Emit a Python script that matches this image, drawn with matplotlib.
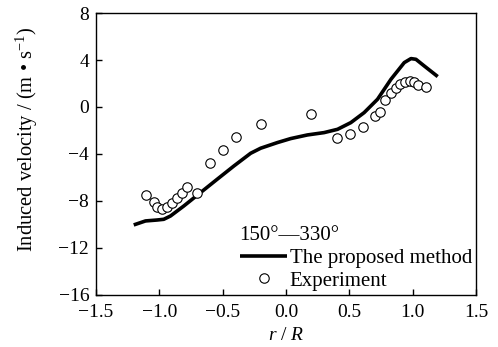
import matplotlib
matplotlib.use("Agg")
import matplotlib.pyplot as plt

plt.rcParams['font.family'] = ['Liberation Serif', 'DejaVu Serif']
plt.rcParams['mathtext.fontset'] = 'custom'
plt.rcParams['mathtext.rm'] = 'Liberation Serif'
plt.rcParams['mathtext.it'] = 'Liberation Serif:italic'

# Proposed method curve
line_x = [-1.203, -1.11, -1.018, -0.966, -0.913, -0.808, -0.676, -0.544, -0.412, -0.280,
          -0.201, -0.069, 0.036, 0.168, 0.300, 0.406, 0.511, 0.616, 0.722, 0.828,
          0.933, 0.986, 1.025, 1.091, 1.197]
line_y = [-10.04, -9.70, -9.62, -9.56, -9.28, -8.43, -7.29, -6.15, -5.02, -3.94,
          -3.51, -3.03, -2.69, -2.38, -2.18, -1.90, -1.33, -0.48, 0.66, 2.36,
          3.78, 4.12, 4.06, 3.49, 2.59]

# Experiment points
exp_x = [-1.103, -1.045, -1.018, -0.979, -0.939, -0.900, -0.860, -0.820, -0.781, -0.702,
         -0.602, -0.499, -0.399, -0.201, 0.200, 0.400, 0.501, 0.604, 0.701, 0.743,
         0.782, 0.828, 0.867, 0.901, 0.938, 0.978, 1.012, 1.043, 1.107]
exp_y = [-7.49, -8.05, -8.51, -8.65, -8.48, -8.14, -7.77, -7.29, -6.78, -7.29,
         -4.73, -3.66, -2.55, -1.47, -0.56, -2.60, -2.30, -1.70, -0.77, -0.39,
         0.57, 1.17, 1.65, 1.99, 2.16, 2.25, 2.16, 1.91, 1.68]

xticks = [-1.5, -1.0, -0.5, 0.0, 0.5, 1.0, 1.5]
yticks = [-16, -12, -8, -4, 0, 4, 8]

fig = plt.figure(figsize=(4.98, 3.47), dpi=100)
ax = fig.add_axes([0.193, 0.150, 0.763, 0.8125])

ax.plot(line_x, line_y, color='black', lw=2.6, solid_capstyle='butt',
        label='The proposed method')
ax.plot(exp_x, exp_y, linestyle='none', marker='o', markersize=6.8,
        markerfacecolor='white', markeredgecolor='black', markeredgewidth=0.8,
        label='Experiment')

ax.set_xlim(-1.5, 1.5)
ax.set_ylim(-16, 8)
ax.set_xticks(xticks)
ax.set_xticklabels([f"{v:.1f}".replace('-', '\u2212') for v in xticks])
ax.set_yticks(yticks)
ax.set_yticklabels([str(v).replace('-', '\u2212') for v in yticks])
ax.tick_params(direction='in', length=4, width=1, labelsize=14)
ax.tick_params(axis='y', pad=5)
ax.tick_params(axis='x', pad=6.5)
for s in ax.spines.values():
    s.set_linewidth(1)

ax.set_xlabel('$r$ / $R$', fontsize=14, labelpad=4.5)
ax.set_ylabel('Induced velocity / (m \u2022 s$^{-1}$)', fontsize=14.8)
ax.yaxis.set_label_coords(-0.147, 0.553)

leg = ax.legend(loc='lower right', title='150\u00b0\u2014330\u00b0', frameon=False,
                fontsize=15, title_fontsize=15, handlelength=2.3,
                handletextpad=0.1, labelspacing=0.15, borderaxespad=0.1,
                borderpad=0.1)
leg._legend_box.align = 'left'

fig.savefig('out.png', dpi=100)
